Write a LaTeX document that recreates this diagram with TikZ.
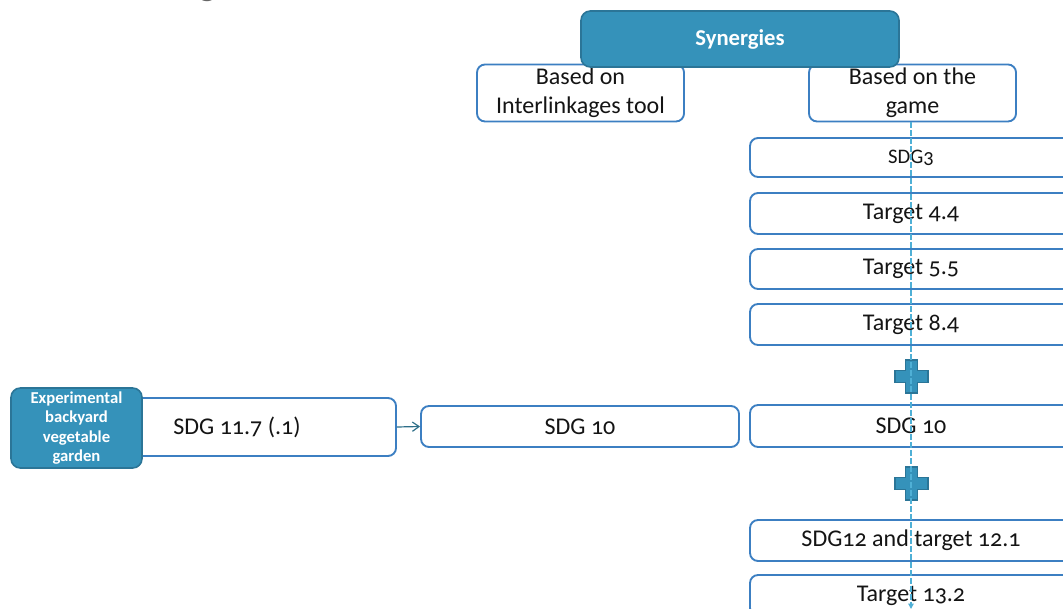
\documentclass[tikz,border=0pt]{standalone}
\usepackage{fontspec}
\setmainfont{Carlito}[Numbers=OldStyle]
\usetikzlibrary{arrows.meta}
\definecolor{teal}{HTML}{3592BA}
\definecolor{tealdark}{HTML}{2B7597}
\definecolor{frame}{HTML}{3C7FC2}
\definecolor{flow}{HTML}{4FB0D6}
\definecolor{linkc}{HTML}{2D6E88}
\begin{document}
\begin{tikzpicture}[x=0.75pt,y=-0.75pt,
  whitebox/.style={draw=frame,line width=1.4pt,fill=white,rounded corners=6pt,
    inner sep=0pt,font=\fontsize{18}{22}\selectfont,text=black!92,align=center},
  bluebox/.style={draw=tealdark,line width=1.2pt,fill=teal,rounded corners=7pt,
    inner sep=0pt,text=white,align=center},
  plussign/.style={fill=teal,draw=tealdark,line width=0.8pt},
  flowline/.style={draw=flow,line width=1pt,dash pattern=on 4pt off 2pt},
  linkarrow/.style={draw=linkc,line width=0.9pt,-{Straight Barb[length=5pt,width=7pt]}}
]
\useasboundingbox (0,0) rectangle (1063,609);
\clip (0,0) rectangle (1063,609);

% caption line running off the top edge
\node[anchor=base west,inner sep=0pt,text=black!60,font=\fontsize{27}{30}\selectfont] (caption) at (163,-4) {(Figure 4)};

% second level: the two sources
\node[whitebox,minimum width=207*0.75pt,minimum height=57*0.75pt] (inter) at (580.5,93) {Based on\\Interlinkages tool};
\node[whitebox,minimum width=207*0.75pt,minimum height=57*0.75pt] (game) at (912.5,93) {Based on the\\game};

% root
\node[bluebox,minimum width=318*0.75pt,minimum height=56*0.75pt,font=\bfseries\fontsize{17}{20}\selectfont] (syn) at (740,39) {Synergies};

% game column
\node[whitebox,minimum width=322*0.75pt,minimum height=39*0.75pt,font=\fontsize{15.5}{18}\selectfont] (sdg3) at (911,157.5) {SDG3};
\node[whitebox,minimum width=322*0.75pt,minimum height=41*0.75pt] (t44) at (911,213.5) {Target 4.4};
\node[whitebox,minimum width=322*0.75pt,minimum height=40*0.75pt] (t55) at (911,269) {Target 5.5};
\node[whitebox,minimum width=322*0.75pt,minimum height=41*0.75pt] (t84) at (911,324.5) {Target 8.4};
\node[whitebox,minimum width=322*0.75pt,minimum height=42*0.75pt] (sdg10r) at (911,426) {SDG 10};
\node[whitebox,minimum width=322*0.75pt,minimum height=41*0.75pt] (sdg12) at (911,540.5) {SDG12 and target 12.1};
\node[whitebox,minimum width=322*0.75pt,minimum height=41*0.75pt] (t132) at (911,595.5) {Target 13.2};

% plus signs between groups
\foreach \cy in {376.5,483.5}{
  \filldraw[plussign] (905.5,\cy-16.5) -- (917.5,\cy-16.5) -- (917.5,\cy-6) -- (928,\cy-6)
    -- (928,\cy+6) -- (917.5,\cy+6) -- (917.5,\cy+16.5) -- (905.5,\cy+16.5)
    -- (905.5,\cy+6) -- (895,\cy+6) -- (895,\cy-6) -- (905.5,\cy-6) -- cycle;
}

% case study on the left
\node[whitebox,minimum width=263*0.75pt,minimum height=58*0.75pt] (sdg117) at (264.5,427) {};
\node[inner sep=0pt,font=\fontsize{18}{22}\selectfont,text=black!92] (sdg117txt) at (237,427) {SDG 11.7 (.1)};
\node[bluebox,minimum width=131*0.75pt,minimum height=80*0.75pt,
  font=\bfseries\fontsize{12.5}{14.6}\selectfont] (exp) at (76.5,428) {Experimental\\backyard\\vegetable\\garden};
\node[whitebox,minimum width=318*0.75pt,minimum height=41*0.75pt] (sdg10m) at (580,426.5) {SDG 10};

\draw[linkarrow] (sdg117.east) -- (sdg10m.west);

% flow through the game column
\coordinate (flowend) at (911,609);
\draw[flowline,-{Triangle[length=4pt,width=4pt]}] (game.south -| 911,0) -- (flowend);
\end{tikzpicture}
\end{document}
